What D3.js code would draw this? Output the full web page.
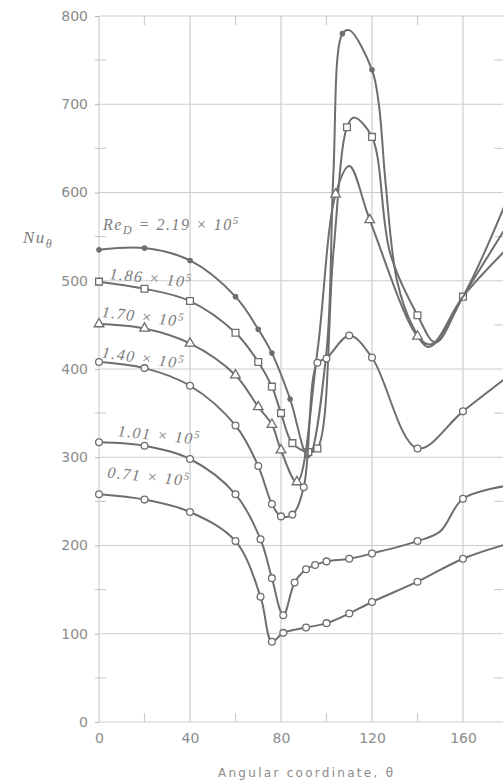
<!DOCTYPE html>
<html>
<head>
<meta charset="utf-8">
<script src="https://cdn.jsdelivr.net/npm/d3@7"></script>
<style>
body { margin: 0; background: #fff; }
.grid { stroke: #cdcdcd; stroke-width: 1.2; }
.axis text { font-family: "DejaVu Sans", sans-serif; font-size: 14px; fill: #8c8c8c; }
.axis line, .axis path { stroke: #b5b5b5; }
.curve { fill: none; stroke: #6e6e6e; stroke-width: 2; }
.mark { fill: #fff; stroke: #6e6e6e; stroke-width: 1.3; }
.dot { fill: #6e6e6e; stroke: none; }
.label { font-family: "Liberation Serif", serif; font-style: italic; font-size: 16px; letter-spacing: 1.5px; fill: #7c7c7c; }
.title { font-family: "DejaVu Sans", sans-serif; font-size: 12px; fill: #8c8c8c; }
</style>
</head>
<body>
<script>
// values: [theta, Nu, marker drawn]
var re219 = [[0,535,1],[20,537,1],[40,523,1],[60,482,1],[70,445,1],[76,418,1],[84,366,1],
  [92,300,0],[100,420,0],[103,620,0],[107,780,1],[110,784,0],[120,739,1],[123,700,0],
  [126,610,0],[131,500,0],[138,448,0],[145,425,0],[160,482,0],[180,596,0]]
var re186 = [[0,499,1],[20,491,1],[40,477,1],[60,441,1],[70,408,1],[76,380,1],[80,350,1],
  [85,316,1],[92,306,1],[96,310,1],[103,531,0],[109,674,1],[112,685,0],[120,663,1],
  [128,531,0],[140,461,1],[148,430,0],[160,482,1],[180,565,0]]
var re170 = [[0,451,1],[20,446,1],[40,429,1],[60,393,1],[70,357,1],[76,337,1],[80,308,1],
  [87,272,1],[96,420,0],[104,598,1],[110,630,0],[119,569,1],[140,437,1],
  [146,428,0],[160,482,0],[180,538,0]]
var re140 = [[0,408,1],[20,401,1],[40,381,1],[60,336,1],[70,290,1],[76,247,1],[80,233,1],
  [85,235,1],[90,266,1],[96,407,1],[100,412,1],[110,438,1],[120,413,1],[140,310,1],
  [160,352,1],[180,392,0]]
var re101 = [[0,317,1],[20,313,1],[40,298,1],[60,258,1],[71,207,1],[76,163,1],[81,121,1],
  [86,158,1],[91,173,1],[95,178,1],[100,182,1],[110,185,1],[120,191,1],[140,205,1],
  [150,216,0],[160,253,1],[180,268,0]]
var re071 = [[0,258,1],[20,252,1],[40,238,1],[60,205,1],[71,142,1],[76,91,1],[81,101,1],
  [91,107,1],[100,112,1],[110,123,1],[120,136,1],[140,159,1],[160,185,1],[180,202,0]]

var seriesData = [re219, re186, re170, re140, re101, re071]
var seriesMark = ["dot", "square", "triangle", "circle", "circle", "circle"]
var seriesCoef = ["2.19", "1.86", "1.70", "1.40", "1.01", "0.71"]

var xTicks = [0, 40, 80, 120, 160]
var yTicks = [0, 100, 200, 300, 400, 500, 600, 700, 800]
var xMinor = [20, 60, 100, 140]
var yMinor = [50, 150, 250, 350, 450, 550, 650, 750]

// label anchors in data units, with tilt in degrees
var labelPos = [[1.8, 557, 0], [4.4, 502, 6], [1, 459, 7], [1, 413, 8], [8, 324, 6], [3.5, 277, 6]]

var width = 503, height = 783
var x = d3.scaleLinear().domain([0, 180]).range([99, 508.5])
var y = d3.scaleLinear().domain([0, 800]).range([722, 16])

var svg = d3.select("body").append("svg")
  .attr("width", width)
  .attr("height", height)

drawGrid()
drawCurves()
drawLabels()

function drawGrid()
{
  var g = svg.append("g").attr("id", "grid")

  g.selectAll(".vline").data(xTicks.concat([180]))
    .enter().append("line")
    .attr("class", "grid")
    .attr("x1", function(d) { return x(d) })
    .attr("x2", function(d) { return x(d) })
    .attr("y1", y(800)).attr("y2", y(0))

  g.selectAll(".hline").data(yTicks)
    .enter().append("line")
    .attr("class", "grid")
    .attr("x1", x(0)).attr("x2", x(180))
    .attr("y1", function(d) { return y(d) })
    .attr("y2", function(d) { return y(d) })

  // short minor ticks along the frame
  xMinor.forEach(function(t) {
    g.append("line").attr("class", "grid")
      .attr("x1", x(t)).attr("x2", x(t)).attr("y1", y(0)).attr("y2", y(0) - 9)
    g.append("line").attr("class", "grid")
      .attr("x1", x(t)).attr("x2", x(t)).attr("y1", y(800)).attr("y2", y(800) + 9)
  })
  yMinor.forEach(function(v) {
    g.append("line").attr("class", "grid")
      .attr("x1", x(0) - 4).attr("x2", x(0) + 7).attr("y1", y(v)).attr("y2", y(v))
    g.append("line").attr("class", "grid")
      .attr("x1", x(180) - 14).attr("x2", x(180)).attr("y1", y(v)).attr("y2", y(v))
  })

  var yAxis = d3.axisLeft(y).tickValues(yTicks).tickSize(4).tickPadding(7)
  svg.append("g").attr("class", "axis")
    .attr("transform", "translate(" + x(0) + ",0)")
    .call(yAxis)
    .select(".domain").remove()

  var xAxis = d3.axisBottom(x).tickValues(xTicks).tickSize(0).tickPadding(11)
  svg.append("g").attr("class", "axis")
    .attr("transform", "translate(0," + y(0) + ")")
    .call(xAxis)
    .select(".domain").remove()

  svg.append("text")
    .attr("class", "title")
    .attr("x", 218).attr("y", 777)
    .attr("textLength", 175)
    .attr("lengthAdjust", "spacing")
    .text("Angular coordinate, θ")

  var nu = svg.append("text").attr("class", "label")
    .attr("x", 23).attr("y", 243)
    .style("font-size", "17px")
  nu.append("tspan").text("Nu")
  nu.append("tspan").attr("dy", 5).style("font-size", "12px").text("θ")
}

function drawCurves()
{
  var line = d3.line()
    .x(function(d) { return x(d[0]) })
    .y(function(d) { return y(d[1]) })
    .curve(d3.curveCatmullRom.alpha(0.5))

  var sym = {
    "square": d3.symbol().type(d3.symbolSquare).size(46),
    "triangle": d3.symbol().type(d3.symbolTriangle).size(40),
    "circle": d3.symbol().type(d3.symbolCircle).size(36)
  }

  seriesData.forEach(function(data, i) {
    var g = svg.append("g").attr("class", "series")
    g.append("path")
      .datum(data)
      .attr("class", "curve")
      .attr("d", line)

    var pts = data.filter(function(d) { return d[2] == 1 })
    if (seriesMark[i] == "dot") {
      g.selectAll("circle").data(pts)
        .enter().append("circle")
        .attr("class", "dot")
        .attr("cx", function(d) { return x(d[0]) })
        .attr("cy", function(d) { return y(d[1]) })
        .attr("r", 2.8)
    } else {
      g.selectAll(".mark").data(pts)
        .enter().append("path")
        .attr("class", "mark")
        .attr("d", sym[seriesMark[i]])
        .attr("transform", function(d) {
          return "translate(" + x(d[0]) + "," + y(d[1]) + ")"
        })
    }
  })
}

function drawLabels()
{
  seriesCoef.forEach(function(c, i) {
    var p = labelPos[i]
    var px = x(p[0]), py = y(p[1])
    var t = svg.append("text")
      .attr("class", "label")
      .attr("transform", "translate(" + px + "," + py + ") rotate(" + p[2] + ")")
    if (i == 0) {
      t.append("tspan").text("Re")
      t.append("tspan").attr("dy", 4).style("font-size", "12px").text("D")
      t.append("tspan").attr("dy", -4).text(" = " + c + " × 10")
    } else {
      t.append("tspan").text(c + " × 10")
    }
    t.append("tspan").attr("dy", -6).style("font-size", "11px").text("5")
  })
}
</script>
</body>
</html>
